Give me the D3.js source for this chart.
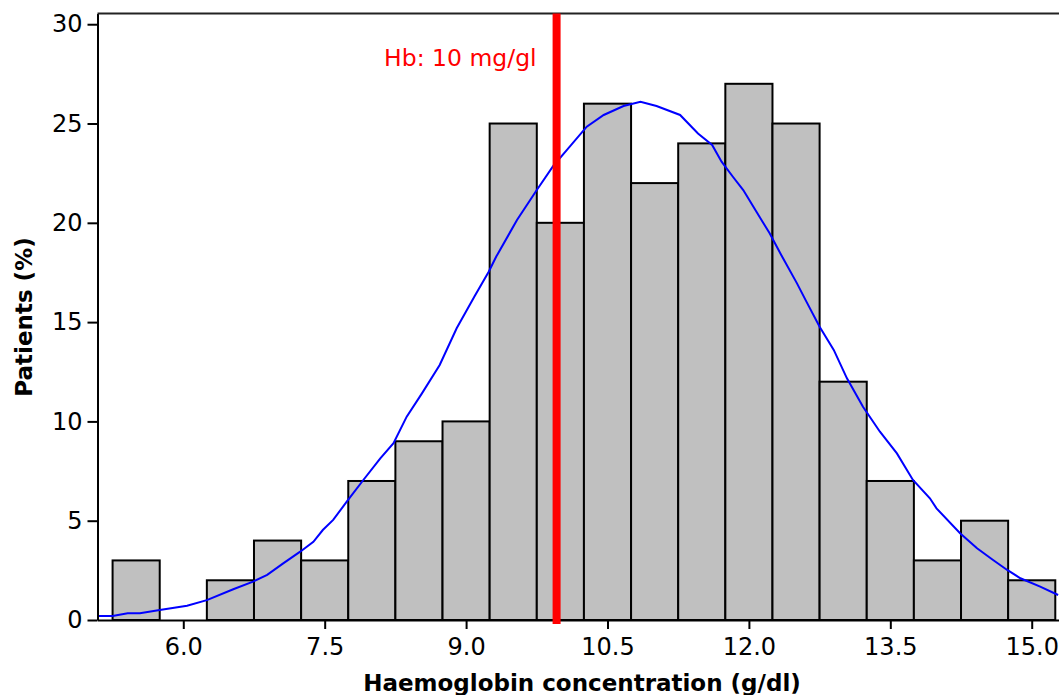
<!DOCTYPE html>
<html>
<head>
    <meta charset="utf-8">
    <script src="https://cdn.jsdelivr.net/npm/d3@7/dist/d3.min.js"></script>
    <style>
        body { margin: 0; background: #fff; }
        text { font-family: "DejaVu Sans", sans-serif; }
    </style>
</head>
<body>
<div id="chart"></div>
<script>
    // histogram bins (g/dl) and patient percentages
    var binEdges = [5.25, 5.75, 6.25, 6.75, 7.25, 7.75, 8.25, 8.75, 9.25, 9.75, 10.25,
                    10.75, 11.25, 11.75, 12.25, 12.75, 13.25, 13.75, 14.25, 14.75, 15.25];
    var counts = [3, 0, 2, 4, 3, 7, 9, 10, 25, 20, 26, 22, 24, 27, 25, 12, 7, 3, 5, 2];

    // fitted curve, read point by point
    var curveX = [5.09, 5.25, 5.41, 5.54, 5.75, 6.04, 6.25, 6.53, 6.74, 6.89, 7.06, 7.24, 7.38,
                  7.48, 7.59, 7.74, 7.91, 8.09, 8.23, 8.37, 8.53, 8.72, 8.90, 9.09, 9.24, 9.32,
                  9.54, 9.75, 9.93, 10.07, 10.28, 10.46, 10.67, 10.85, 11.02, 11.27, 11.46, 11.61,
                  11.71, 11.83, 11.94, 12.08, 12.22, 12.34, 12.51, 12.61, 12.75, 12.90, 13.04,
                  13.21, 13.39, 13.57, 13.74, 13.92, 13.99, 14.24, 14.42, 14.59, 14.74, 14.88,
                  15.09, 15.28];
    var curveY = [0.2, 0.2, 0.34, 0.34, 0.5, 0.72, 1.0, 1.55, 1.93, 2.27, 2.85, 3.44, 3.94,
                  4.53, 5.04, 6.0, 7.05, 8.14, 8.9, 10.24, 11.4, 12.84, 14.69, 16.3, 17.54, 18.3,
                  20.14, 21.65, 22.9, 23.67, 24.84, 25.43, 25.88, 26.1, 25.88, 25.43, 24.5, 23.92,
                  23.08, 22.32, 21.65, 20.56, 19.47, 18.4, 16.95, 16.03, 14.77, 13.6, 12.17,
                  10.74, 9.48, 8.39, 7.05, 6.13, 5.62, 4.37, 3.61, 3.02, 2.52, 2.1,
                  1.68, 1.26];

    var xTicks = [6.0, 7.5, 9.0, 10.5, 12.0, 13.5, 15.0];
    var yTicks = [0, 5, 10, 15, 20, 25, 30];
    var hbLine = 9.96;
    var hbLabel = "Hb: 10 mg/gl";

    var W = 1059, H = 695;
    var plotL = 97.5, plotB = 620, plotT = 13.5;

    var svg = d3.select("#chart").append("svg")
        .attr("width", W)
        .attr("height", H);

    var x = d3.scaleLinear()
        .domain([5.09, 15.5])
        .range([plotL, plotL + 10.41 * 94.27]);

    var y = d3.scaleLinear()
        .domain([0, 30.54])
        .range([plotB, plotT]);

    // bars
    svg.append("g").selectAll("rect")
        .data(counts)
        .join("rect")
            .attr("x", function(d, i) { return x(binEdges[i]); })
            .attr("width", function(d, i) { return x(binEdges[i + 1]) - x(binEdges[i]); })
            .attr("y", function(d) { return y(d); })
            .attr("height", function(d) { return y(0) - y(d); })
            .attr("fill", "#c0c0c0")
            .attr("stroke", "#000")
            .attr("stroke-width", 2);

    // curve
    svg.append("path")
        .datum(curveX)
        .attr("fill", "none")
        .attr("stroke", "#0000ff")
        .attr("stroke-width", 2)
        .attr("d", d3.line()
            .x(function(d) { return x(d); })
            .y(function(d, i) { return y(curveY[i]); }));

    // axes
    var yAxis = svg.append("g")
        .attr("transform", "translate(" + plotL + ",0)")
        .call(d3.axisLeft(y).tickValues(yTicks).tickSize(10).tickSizeOuter(0).tickPadding(5));

    var xAxis = svg.append("g")
        .attr("transform", "translate(0," + plotB + ")")
        .call(d3.axisBottom(x).tickValues(xTicks).tickFormat(d3.format(".1f"))
            .tickSize(9).tickSizeOuter(0).tickPadding(9));

    [yAxis, xAxis].forEach(function(a) {
        a.selectAll("path, line").attr("stroke", "#000").attr("stroke-width", 2);
        a.selectAll("text").attr("fill", "#000").style("font-size", "24px")
            .style("font-family", '"DejaVu Sans", sans-serif');
    });

    // top frame
    svg.append("line")
        .attr("x1", plotL).attr("x2", W)
        .attr("y1", plotT).attr("y2", plotT)
        .attr("stroke", "#222")
        .attr("stroke-width", 2);

    // Hb cutoff
    svg.append("line")
        .attr("x1", x(hbLine)).attr("x2", x(hbLine))
        .attr("y1", plotT).attr("y2", plotB + 4)
        .attr("stroke", "#ff0000")
        .attr("stroke-width", 8);

    svg.append("text")
        .attr("x", x(hbLine) - 20)
        .attr("y", 65.5)
        .attr("text-anchor", "end")
        .attr("fill", "#ff0000")
        .style("font-size", "23.5px")
        .text(hbLabel);

    // axis titles
    svg.append("text")
        .attr("x", 582)
        .attr("y", 690.5)
        .attr("text-anchor", "middle")
        .style("font-size", "23px")
        .style("font-weight", "bold")
        .text("Haemoglobin concentration (g/dl)");

    svg.append("text")
        .attr("transform", "translate(32,317)rotate(-90)")
        .attr("text-anchor", "middle")
        .style("font-size", "23px")
        .style("font-weight", "bold")
        .text("Patients (%)");
</script>
</body>
</html>
